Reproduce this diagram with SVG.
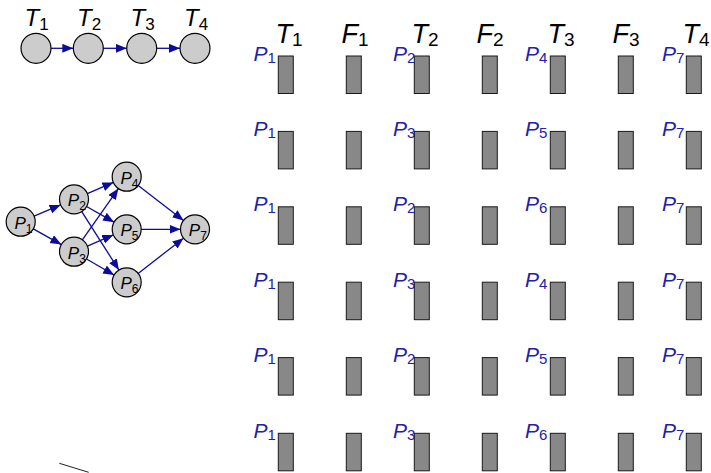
<svg xmlns="http://www.w3.org/2000/svg" width="711" height="473" viewBox="0 0 711 473">
<style>
.nd{fill:#cccccc;stroke:#000;stroke-width:1.2}
.cn{stroke:#0c0c9c;stroke-width:1.3;fill:none}
.bar{fill:#888888;stroke:#1a1a1a;stroke-width:1}
.hd{font-family:"Liberation Sans",Arial,sans-serif;font-style:italic;font-size:27px;fill:#000}
.ct{font-family:"Liberation Sans",Arial,sans-serif;font-style:italic;font-size:24px;fill:#000}
.nl{font-family:"Liberation Sans",Arial,sans-serif;font-style:italic;font-size:17px;fill:#000}
.pl{font-family:"Liberation Sans",Arial,sans-serif;font-style:italic;font-size:21px;fill:#2020aa}
.s{font-style:normal}
</style>
<defs>
<marker id="ah" markerUnits="userSpaceOnUse" markerWidth="12" markerHeight="10" refX="11" refY="4.5" orient="auto">
<path d="M0,0 L11,4.5 L0,9 z" fill="#0c0c9c"/>
</marker>
</defs>

<g id="connectors">
<line class="cn" x1="51" y1="48.3" x2="73.3" y2="48.3" marker-end="url(#ah)"/>
<line class="cn" x1="103.3" y1="48.3" x2="126.7" y2="48.3" marker-end="url(#ah)"/>
<line class="cn" x1="156.7" y1="48.3" x2="180" y2="48.3" marker-end="url(#ah)"/>
<line class="cn" x1="34.07" y1="216.08" x2="60.63" y2="204.92" marker-end="url(#ah)"/>
<line class="cn" x1="33.34" y1="228.81" x2="61.36" y2="244.59" marker-end="url(#ah)"/>
<line class="cn" x1="87.33" y1="193.58" x2="113.37" y2="182.42" marker-end="url(#ah)"/>
<line class="cn" x1="86.6" y1="206.47" x2="114.1" y2="222.13" marker-end="url(#ah)"/>
<line class="cn" x1="81.77" y1="211.54" x2="118.93" y2="270.06" marker-end="url(#ah)"/>
<line class="cn" x1="82.34" y1="239.84" x2="118.36" y2="188.56" marker-end="url(#ah)"/>
<line class="cn" x1="87.34" y1="246.03" x2="113.36" y2="234.97" marker-end="url(#ah)"/>
<line class="cn" x1="86.54" y1="258.98" x2="114.16" y2="275.02" marker-end="url(#ah)"/>
<line class="cn" x1="138.19" y1="185.55" x2="183.51" y2="220.45" marker-end="url(#ah)"/>
<line class="cn" x1="141.2" y1="229.3" x2="180.5" y2="229.3" marker-end="url(#ah)"/>
<line class="cn" x1="138.16" y1="273.41" x2="183.54" y2="238.19" marker-end="url(#ah)"/>
</g>

<g id="chain">
<g id="t1"><circle class="nd" cx="36" cy="48.3" r="15"/><text class="ct" x="24.5" y="25.5">T<tspan class="s" font-size="17" dy="4">1</tspan></text></g>
<g id="t2"><circle class="nd" cx="88.3" cy="48.3" r="15"/><text class="ct" x="77" y="25.5">T<tspan class="s" font-size="17" dy="4">2</tspan></text></g>
<g id="t3"><circle class="nd" cx="141.7" cy="48.3" r="15"/><text class="ct" x="130.5" y="25.5">T<tspan class="s" font-size="17" dy="4">3</tspan></text></g>
<g id="t4"><circle class="nd" cx="195" cy="48.3" r="15"/><text class="ct" x="184" y="25.5">T<tspan class="s" font-size="17" dy="4">4</tspan></text></g>
</g>

<g id="dag">
<g id="p1"><circle class="nd" cx="20.7" cy="221.7" r="14.5"/><text class="nl" x="14.5" y="228.7">P<tspan class="s" font-size="12" dy="4">1</tspan></text></g>
<g id="p2"><circle class="nd" cx="74" cy="199.3" r="14.5"/><text class="nl" x="67.8" y="206.3">P<tspan class="s" font-size="12" dy="4">2</tspan></text></g>
<g id="p3"><circle class="nd" cx="74" cy="251.7" r="14.5"/><text class="nl" x="67.8" y="258.7">P<tspan class="s" font-size="12" dy="4">3</tspan></text></g>
<g id="p4"><circle class="nd" cx="126.7" cy="176.7" r="14.5"/><text class="nl" x="120.5" y="183.7">P<tspan class="s" font-size="12" dy="4">4</tspan></text></g>
<g id="p5"><circle class="nd" cx="126.7" cy="229.3" r="14.5"/><text class="nl" x="120.5" y="236.3">P<tspan class="s" font-size="12" dy="4">5</tspan></text></g>
<g id="p6"><circle class="nd" cx="126.7" cy="282.3" r="14.5"/><text class="nl" x="120.5" y="289.3">P<tspan class="s" font-size="12" dy="4">6</tspan></text></g>
<g id="p7"><circle class="nd" cx="195" cy="229.3" r="14.5"/><text class="nl" x="188.8" y="236.3">P<tspan class="s" font-size="12" dy="4">7</tspan></text></g>
</g>

<line x1="59.3" y1="463.3" x2="88.7" y2="472.3" stroke="#222" stroke-width="1"/>

<g id="headers">
<text class="hd" x="275.5" y="42.5">T<tspan class="s" font-size="19" dy="3">1</tspan></text>
<text class="hd" x="341.5" y="42.5">F<tspan class="s" font-size="19" dy="3">1</tspan></text>
<text class="hd" x="411.5" y="42.5">T<tspan class="s" font-size="19" dy="3">2</tspan></text>
<text class="hd" x="476.5" y="42.5">F<tspan class="s" font-size="19" dy="3">2</tspan></text>
<text class="hd" x="547.5" y="42.5">T<tspan class="s" font-size="19" dy="3">3</tspan></text>
<text class="hd" x="612.5" y="42.5">F<tspan class="s" font-size="19" dy="3">3</tspan></text>
<text class="hd" x="682.5" y="42.5">T<tspan class="s" font-size="19" dy="3">4</tspan></text>
</g>

<g id="grid">
<g id="row1">
<rect class="bar" x="278.3" y="56" width="15" height="37.5"/><rect class="bar" x="346.3" y="56" width="15" height="37.5"/><rect class="bar" x="414.3" y="56" width="15" height="37.5"/><rect class="bar" x="482.3" y="56" width="15" height="37.5"/><rect class="bar" x="550.3" y="56" width="15" height="37.5"/><rect class="bar" x="618.3" y="56" width="15" height="37.5"/><rect class="bar" x="686.3" y="56" width="15" height="37.5"/>
<text class="pl" x="253.5" y="60.5">P<tspan class="s" font-size="15" dy="2">1</tspan></text>
<text class="pl" x="393" y="60.5">P<tspan class="s" font-size="15" dy="2">2</tspan></text>
<text class="pl" x="525" y="60.5">P<tspan class="s" font-size="15" dy="2">4</tspan></text>
<text class="pl" x="662" y="60.5">P<tspan class="s" font-size="15" dy="2">7</tspan></text>
</g>
<g id="row2">
<rect class="bar" x="278.3" y="131.4" width="15" height="37.5"/><rect class="bar" x="346.3" y="131.4" width="15" height="37.5"/><rect class="bar" x="414.3" y="131.4" width="15" height="37.5"/><rect class="bar" x="482.3" y="131.4" width="15" height="37.5"/><rect class="bar" x="550.3" y="131.4" width="15" height="37.5"/><rect class="bar" x="618.3" y="131.4" width="15" height="37.5"/><rect class="bar" x="686.3" y="131.4" width="15" height="37.5"/>
<text class="pl" x="253.5" y="135.9">P<tspan class="s" font-size="15" dy="2">1</tspan></text>
<text class="pl" x="393" y="135.9">P<tspan class="s" font-size="15" dy="2">3</tspan></text>
<text class="pl" x="525" y="135.9">P<tspan class="s" font-size="15" dy="2">5</tspan></text>
<text class="pl" x="662" y="135.9">P<tspan class="s" font-size="15" dy="2">7</tspan></text>
</g>
<g id="row3">
<rect class="bar" x="278.3" y="206.8" width="15" height="37.5"/><rect class="bar" x="346.3" y="206.8" width="15" height="37.5"/><rect class="bar" x="414.3" y="206.8" width="15" height="37.5"/><rect class="bar" x="482.3" y="206.8" width="15" height="37.5"/><rect class="bar" x="550.3" y="206.8" width="15" height="37.5"/><rect class="bar" x="618.3" y="206.8" width="15" height="37.5"/><rect class="bar" x="686.3" y="206.8" width="15" height="37.5"/>
<text class="pl" x="253.5" y="211.3">P<tspan class="s" font-size="15" dy="2">1</tspan></text>
<text class="pl" x="393" y="211.3">P<tspan class="s" font-size="15" dy="2">2</tspan></text>
<text class="pl" x="525" y="211.3">P<tspan class="s" font-size="15" dy="2">6</tspan></text>
<text class="pl" x="662" y="211.3">P<tspan class="s" font-size="15" dy="2">7</tspan></text>
</g>
<g id="row4">
<rect class="bar" x="278.3" y="282.2" width="15" height="37.5"/><rect class="bar" x="346.3" y="282.2" width="15" height="37.5"/><rect class="bar" x="414.3" y="282.2" width="15" height="37.5"/><rect class="bar" x="482.3" y="282.2" width="15" height="37.5"/><rect class="bar" x="550.3" y="282.2" width="15" height="37.5"/><rect class="bar" x="618.3" y="282.2" width="15" height="37.5"/><rect class="bar" x="686.3" y="282.2" width="15" height="37.5"/>
<text class="pl" x="253.5" y="286.7">P<tspan class="s" font-size="15" dy="2">1</tspan></text>
<text class="pl" x="393" y="286.7">P<tspan class="s" font-size="15" dy="2">3</tspan></text>
<text class="pl" x="525" y="286.7">P<tspan class="s" font-size="15" dy="2">4</tspan></text>
<text class="pl" x="662" y="286.7">P<tspan class="s" font-size="15" dy="2">7</tspan></text>
</g>
<g id="row5">
<rect class="bar" x="278.3" y="357.6" width="15" height="37.5"/><rect class="bar" x="346.3" y="357.6" width="15" height="37.5"/><rect class="bar" x="414.3" y="357.6" width="15" height="37.5"/><rect class="bar" x="482.3" y="357.6" width="15" height="37.5"/><rect class="bar" x="550.3" y="357.6" width="15" height="37.5"/><rect class="bar" x="618.3" y="357.6" width="15" height="37.5"/><rect class="bar" x="686.3" y="357.6" width="15" height="37.5"/>
<text class="pl" x="253.5" y="362.1">P<tspan class="s" font-size="15" dy="2">1</tspan></text>
<text class="pl" x="393" y="362.1">P<tspan class="s" font-size="15" dy="2">2</tspan></text>
<text class="pl" x="525" y="362.1">P<tspan class="s" font-size="15" dy="2">5</tspan></text>
<text class="pl" x="662" y="362.1">P<tspan class="s" font-size="15" dy="2">7</tspan></text>
</g>
<g id="row6">
<rect class="bar" x="278.3" y="433.3" width="15" height="37.5"/><rect class="bar" x="346.3" y="433.3" width="15" height="37.5"/><rect class="bar" x="414.3" y="433.3" width="15" height="37.5"/><rect class="bar" x="482.3" y="433.3" width="15" height="37.5"/><rect class="bar" x="550.3" y="433.3" width="15" height="37.5"/><rect class="bar" x="618.3" y="433.3" width="15" height="37.5"/><rect class="bar" x="686.3" y="433.3" width="15" height="37.5"/>
<text class="pl" x="253.5" y="437.8">P<tspan class="s" font-size="15" dy="2">1</tspan></text>
<text class="pl" x="393" y="437.8">P<tspan class="s" font-size="15" dy="2">3</tspan></text>
<text class="pl" x="525" y="437.8">P<tspan class="s" font-size="15" dy="2">6</tspan></text>
<text class="pl" x="662" y="437.8">P<tspan class="s" font-size="15" dy="2">7</tspan></text>
</g>
</g>
</svg>
